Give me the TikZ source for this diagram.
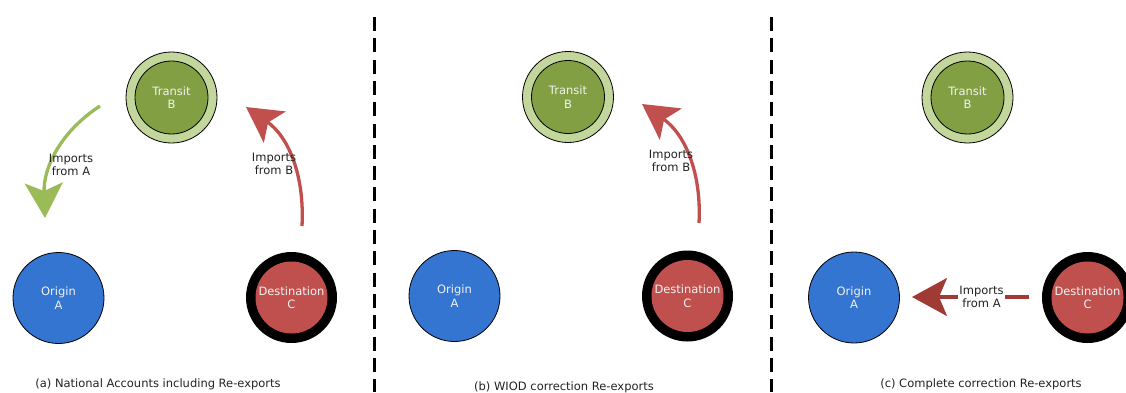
\documentclass[tikz,border=0pt]{standalone}
\usepackage{fontspec}
\setmainfont{DejaVu Sans}
\usetikzlibrary{arrows.meta,calc}
\definecolor{cblue}{HTML}{3375D0}
\definecolor{lgreen}{HTML}{C3D69B}
\definecolor{dgreen}{HTML}{82A043}
\definecolor{agreen}{HTML}{9BBB59}
\definecolor{cred}{HTML}{C0504D}
\definecolor{dred}{HTML}{A03A34}
\definecolor{nodetext}{HTML}{F2F2F2}
\definecolor{labtext}{HTML}{222222}
\begin{document}
\begin{tikzpicture}[x=1pt,y=1pt,
  fnt/.style={font=\fontsize{11.5}{13.5}\selectfont},
  lab/.style={fnt, align=center, text=labtext, inner sep=1pt},
  captxt/.style={fnt, text=labtext, inner sep=0pt},
  originnode/.style={circle, minimum size=91pt, inner sep=0pt, fill=cblue, draw=black, line width=0.8pt, fnt, align=center, text=nodetext},
  transitring/.style={circle, minimum size=91pt, inner sep=0pt, fill=lgreen, draw=black, line width=0.8pt},
  transitcore/.style={circle, minimum size=73pt, inner sep=0pt, fill=dgreen, draw=black, line width=0.8pt, fnt, align=center, text=nodetext},
  destring/.style={circle, minimum size=91pt, inner sep=0pt, fill=black},
  destcore/.style={circle, minimum size=72pt, inner sep=0pt, fill=cred, fnt, align=center, text=nodetext},
  arr/.style={line width=3.3pt, -{Stealth[length=35pt,width=38pt,inset=8pt]}},
  sepline/.style={line width=2.2pt, dash pattern=on 14pt off 7.3pt}
]
\useasboundingbox (0,0) rectangle (1126,392);

% separators
\coordinate (s1t) at (374.5,375);
\coordinate (s1b) at (374.5,0);
\coordinate (s2t) at (771.5,375);
\coordinate (s2b) at (771.5,0);
\draw[sepline] (s1t) -- (s1b);
\draw[sepline] (s2t) -- (s2b);

% ---------- panel (a)
\node[transitring] (B1r) at (171.5,294.5) {};
\node[transitcore] (B1) at (B1r.center) {Transit\\B};
\node[originnode] (A1) at (58.5,94) {Origin\\A};
\node[destring] (C1r) at (291.5,94.5) {};
\node[destcore] (C1) at (C1r.center) {Destination\\C};

\coordinate (ga1s) at (100,286);
\coordinate (ga1t) at (45,174);
\draw[arr, agreen] (ga1s) to[out=213,in=92] (ga1t);
\node[lab] (la1) at (71,227) {Imports\\from A};

\coordinate (ra1s) at (302,166);
\coordinate (ra1t) at (246,285);
\draw[arr, cred] (ra1s) to[out=87,in=-35] (ra1t);
\node[lab] (lb1) at (274,228) {Imports\\from B};

\node[captxt] (capa) at (158,8) {(a) National Accounts including Re-exports};

% ---------- panel (b)
\node[transitring] (B2r) at (568,295) {};
\node[transitcore] (B2) at (B2r.center) {Transit\\B};
\node[originnode] (A2) at (454.5,96) {Origin\\A};
\node[destring] (C2r) at (687.5,96) {};
\node[destcore] (C2) at (C2r.center) {Destination\\C};

\coordinate (rb2s) at (699,169);
\coordinate (rb2t) at (642,288);
\draw[arr, cred] (rb2s) to[out=87,in=-35] (rb2t);
\node[lab] (lb2) at (671,231) {Imports\\from B};

\node[captxt] (capb) at (564,5) {(b) WIOD correction Re-exports};

% ---------- panel (c)
\node[transitring] (B3r) at (967.5,294.5) {};
\node[transitcore] (B3) at (B3r.center) {Transit\\B};
\node[originnode] (A3) at (854,94.5) {Origin\\A};
\node[destring] (C3r) at (1087.5,94.5) {};
\node[destcore] (C3) at (C3r.center) {Destination\\C};

\coordinate (rc3s) at (1029,95);
\coordinate (rc3t) at (912,95);
\draw[arr, dred] (rc3s) -- (rc3t);
\node[lab, fill=white] (lc3) at (981.5,95) {Imports\\from A};

\node[captxt] (capc) at (981,8) {(c) Complete correction Re-exports};
\end{tikzpicture}
\end{document}
